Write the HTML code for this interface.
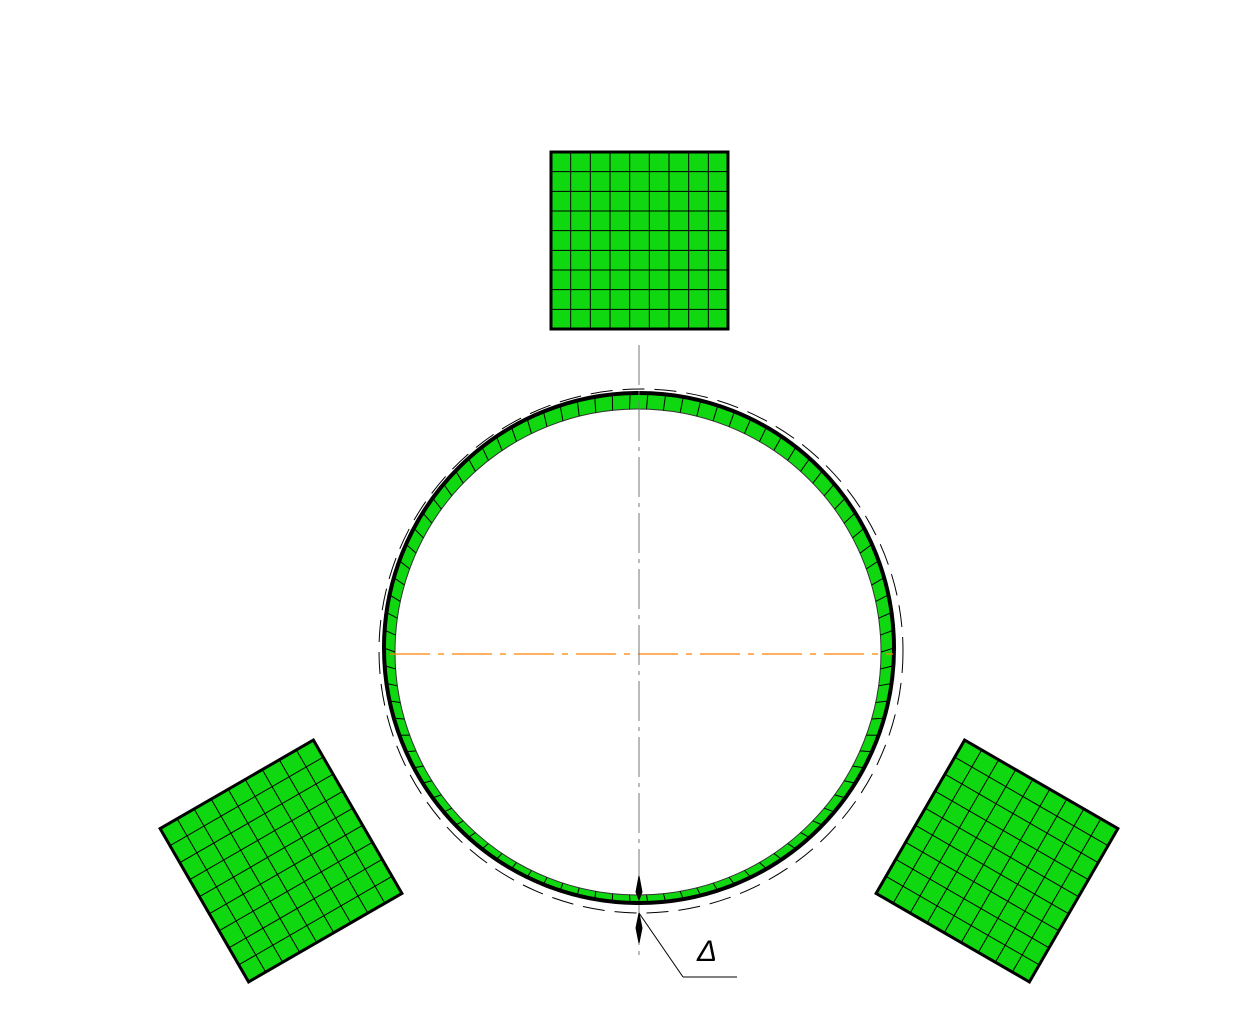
<!DOCTYPE html>
<html><head><meta charset="utf-8"><style>
html,body{margin:0;padding:0;background:#fff;}
svg{display:block}
</style></head><body>
<svg id="drw" width="1253" height="1021" viewBox="0 0 1253 1021" xmlns="http://www.w3.org/2000/svg">
<defs>
<g id="sq">
<rect x="-88.5" y="-88.5" width="177" height="177" fill="#10d810" stroke="#000" stroke-width="3"/>
<g id="grid" stroke="#000" stroke-width="1"></g>
</g>
</defs>
<g transform="translate(639.5,240.5)"><use href="#sq"/></g>
<g transform="translate(281,861) rotate(-30)"><use href="#sq"/></g>
<g transform="translate(997,861) rotate(30)"><use href="#sq"/></g>

<circle cx="641" cy="651" r="262" fill="none" stroke="#000" stroke-width="1" stroke-dasharray="22,10"/>
<g id="ring">
<path id="ringpath" fill="#10d810" fill-rule="evenodd" stroke="none"/>
<circle cx="639" cy="648" r="255" fill="none" stroke="#000" stroke-width="4"/>
<circle cx="638" cy="652" r="243" fill="none" stroke="#333" stroke-width="1"/>
<g id="ticks" stroke="#000" stroke-width="1"></g>
</g>
<line x1="390" y1="654" x2="893" y2="654" stroke="#ff8000" stroke-width="1.3" stroke-dasharray="40,8,6,8"/>
<line x1="639" y1="345" x2="639" y2="960" stroke="#777" stroke-width="1" stroke-dasharray="40,6,4,6"/>
<g stroke="#000" fill="#000">
<path d="M639,876 L636,892 L639,900 L642,892 Z"/>
<path d="M639,943 L636,928 L639,913 L642,928 Z"/>
<line x1="639" y1="913" x2="683" y2="977" stroke-width="1"/>
<line x1="683" y1="977" x2="737" y2="977" stroke-width="1"/>
</g>
<text x="697" y="961" font-family="Liberation Sans, sans-serif" font-style="italic" font-size="30" fill="#000">Δ</text>
</svg>
<script>
const gridCount = 9;
const ringSegments = 90;
const ns='http://www.w3.org/2000/svg';
const g=document.getElementById('grid');
for(let i=1;i<gridCount;i++){
  const p=-88.5+177*i/gridCount;
  let l=document.createElementNS(ns,'line');
  l.setAttribute('x1',p);l.setAttribute('x2',p);l.setAttribute('y1',-88.5);l.setAttribute('y2',88.5);g.appendChild(l);
  l=document.createElementNS(ns,'line');
  l.setAttribute('y1',p);l.setAttribute('y2',p);l.setAttribute('x1',-88.5);l.setAttribute('x2',88.5);g.appendChild(l);
}
function circ(cx,cy,r){return `M${cx-r},${cy} a${r},${r} 0 1,0 ${2*r},0 a${r},${r} 0 1,0 ${-2*r},0 Z`;}
document.getElementById('ringpath').setAttribute('d',circ(639,648,255)+circ(638,652,243));
const t=document.getElementById('ticks');
for(let i=0;i<ringSegments;i++){
  const a=2*Math.PI*i/ringSegments;
  const l=document.createElementNS(ns,'line');
  
  
  l.setAttribute('x1',639+255*Math.cos(a));l.setAttribute('y1',648+255*Math.sin(a));
  l.setAttribute('x2',638+243*Math.cos(a));l.setAttribute('y2',652+243*Math.sin(a));
  t.appendChild(l);
}
</script>
</body></html>
